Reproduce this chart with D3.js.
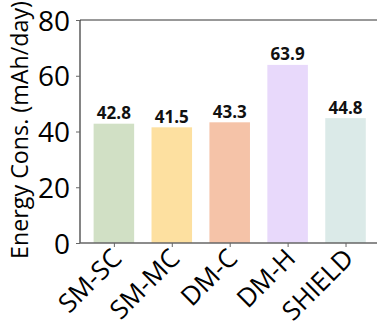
<!DOCTYPE html>
<html><head><meta charset="utf-8">
<script src="https://cdn.jsdelivr.net/npm/d3@7"></script>
<style>body{margin:0;background:#fff;}svg{display:block;}</style>
</head><body>
<svg id="c" width="377" height="331"></svg>
<script>
const categories = ["SM-SC", "SM-MC", "DM-C", "DM-H", "SHIELD"];
const values = [42.8, 41.5, 43.3, 63.9, 44.8];
const colors = ["#d1e0c5", "#fde0a0", "#f5c3a8", "#e8d9fb", "#dbeae8"];
const yTicks = [0, 20, 40, 60, 80];
const yLabel = "Energy Cons. (mAh/day)";

const svg = d3.select("#c");
const mLeft = 80, mRight = 379.4, mTop = 20, mBottom = 243;
const x = d3.scaleLinear().domain([-0.585, 4.585]).range([mLeft, mRight]);
const y = d3.scaleLinear().domain([0, 80]).range([mBottom, mTop]);
const bw = 0.7;
const font = "'Open Sans', 'Noto Sans', sans-serif";

svg.selectAll("rect.bar").data(values).join("rect")
  .attr("class", "bar")
  .attr("x", (d, i) => x(i - bw / 2))
  .attr("width", (d, i) => x(i + bw / 2) - x(i - bw / 2))
  .attr("y", d => y(d))
  .attr("height", d => y(0) - y(d))
  .attr("fill", (d, i) => colors[i]);

svg.selectAll("text.val").data(values).join("text")
  .attr("class", "val")
  .attr("x", (d, i) => x(i))
  .attr("y", d => y(d) - 4.5)
  .attr("text-anchor", "middle")
  .attr("font-family", font)
  .attr("font-weight", "bold")
  .attr("font-size", 17)
  .attr("fill", "#111")
  .text(d => d.toFixed(1));

// spines
svg.append("line").attr("x1", mLeft).attr("x2", mLeft).attr("y1", mTop).attr("y2", mBottom)
  .attr("stroke", "#666").attr("stroke-width", 1.6);
svg.append("line").attr("x1", mLeft).attr("x2", mRight).attr("y1", mTop).attr("y2", mTop)
  .attr("stroke", "#333").attr("stroke-width", 1);
svg.append("line").attr("x1", mLeft).attr("x2", mRight).attr("y1", mBottom).attr("y2", mBottom)
  .attr("stroke", "#666").attr("stroke-width", 1.6);

const yAxis = svg.append("g").attr("transform", `translate(${mLeft},0)`)
  .call(d3.axisLeft(y).tickValues(yTicks).tickSize(4).tickPadding(6).tickFormat(d3.format("d")));
yAxis.select(".domain").remove();
yAxis.selectAll("line").attr("stroke", "#666");
yAxis.selectAll("text").attr("font-family", font).attr("font-size", 28).attr("fill", "#000")
  .attr("dy", "0.36em");

const xAxis = svg.append("g").attr("transform", `translate(0,${mBottom})`)
  .call(d3.axisBottom(x).tickValues(d3.range(categories.length)).tickSize(4)
    .tickFormat(i => categories[i]));
xAxis.select(".domain").remove();
xAxis.selectAll("line").attr("stroke", "#666");
xAxis.selectAll("text").attr("font-family", font).attr("font-size", 26).attr("fill", "#000")
  .attr("text-anchor", "end")
  .attr("dy", null).attr("y", 0)
  .attr("transform", "translate(9,17) rotate(-45)");

const yl = svg.append("text")
  .attr("transform", `translate(28,130) rotate(-90)`)
  .attr("text-anchor", "middle")
  .attr("font-family", font)
  .attr("font-size", 20)
  .attr("fill", "#000")
  .text(yLabel);
const len = yl.node().getComputedTextLength();
yl.attr("font-size", 20 * 258 / len);
</script>
</body></html>
